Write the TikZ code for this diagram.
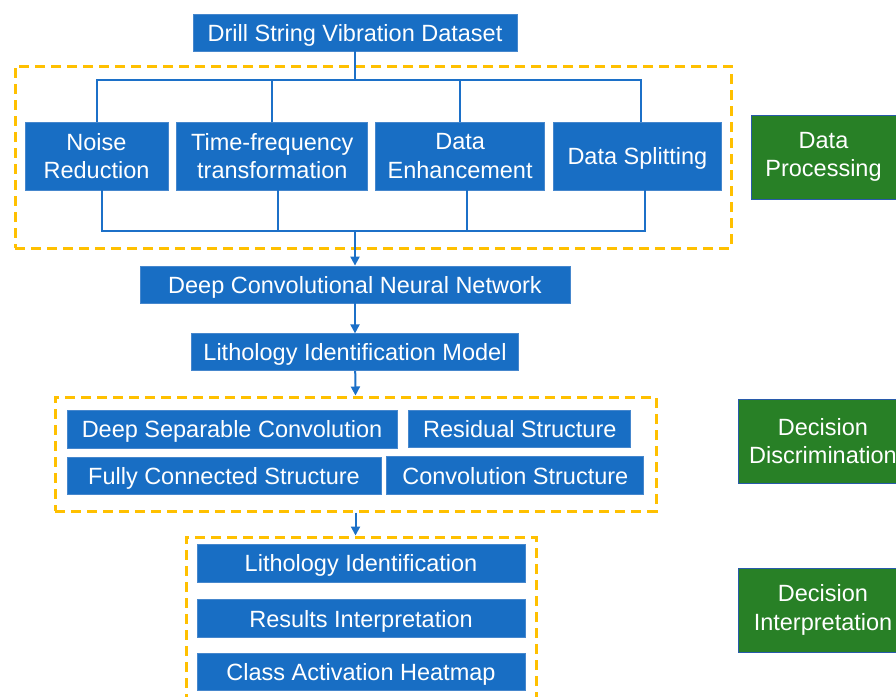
\documentclass[tikz,border=0pt]{standalone}
\usepackage{fontspec}
\setmainfont{Liberation Sans}
\usetikzlibrary{positioning, arrows.meta}

\definecolor{boxblue}{RGB}{24,110,196}
\definecolor{edgeblue}{RGB}{70,135,205}
\definecolor{lineblue}{RGB}{28,112,200}
\definecolor{stagegreen}{RGB}{40,128,38}
\definecolor{stageedge}{RGB}{40,90,170}
\definecolor{dashgold}{RGB}{255,192,0}

\tikzset{
    box/.style={draw=edgeblue, line width=0.8pt, fill=boxblue, text=white,
        inner sep=0pt, align=center, font=\fontsize{23.5}{28.5}\selectfont},
    oneline/.style={text height=17pt, text depth=0pt},
    stage/.style={box, fill=stagegreen, draw=stageedge, minimum height=84pt},
    group/.style={draw=dashgold, line width=3pt, dash pattern=on 10pt off 6pt, inner sep=0pt},
    link/.style={draw=lineblue, line width=2pt},
    flow/.style={link, -{Triangle[length=9pt,width=9pt]}},
}

\begin{document}
\begin{tikzpicture}[x=1pt, y=-1pt]
        \clip (0,0) rectangle (896,696);

        % dashed groups
        \node[group, minimum width=716pt, minimum height=182pt] (prep)   at (373,157)   {};
        \node[group, minimum width=601pt, minimum height=114pt] (struct) at (355.5,454) {};
        \node[group, minimum width=350pt, minimum height=183pt] (interp) at (361,628.5) {};

        % main flow
        \node[box, oneline, minimum width=324pt, minimum height=37pt] (data) at (355,32.5) {Drill String Vibration Dataset};
        \node[box, minimum width=143pt, minimum height=68pt] (noise) at (96.5,156) {Noise\\Reduction};
        \node[box, minimum width=191pt, minimum height=68pt, right=8pt of noise] (tf)  {Time-frequency\\transformation};
        \node[box, minimum width=169pt, minimum height=68pt, right=7pt of tf]    (enh) {Data\\Enhancement};
        \node[box, oneline, minimum width=168pt, minimum height=68pt, right=8pt of enh] (dsplit) {Data Splitting};

        \node[box, oneline, minimum width=430pt, minimum height=37pt] (dcnn) at (355,284.5) {Deep Convolutional Neural Network};
        \node[box, oneline, minimum width=327pt, minimum height=37pt, below=30pt of dcnn] (lim) {Lithology Identification Model};

        \node[box, oneline, minimum width=330pt, minimum height=38pt] (dsc) at (232,429) {Deep Separable Convolution};
        \node[box, oneline, minimum width=222pt, minimum height=37pt, right=11pt of dsc] (rs) {Residual Structure};
        \node[box, oneline, minimum width=314pt, minimum height=37pt] (fcs) at (224,475.5) {Fully Connected Structure};
        \node[box, oneline, minimum width=257pt, minimum height=38pt, right=5pt of fcs] (cs) {Convolution Structure};

        \node[box, oneline, minimum width=328pt, minimum height=38pt] (li) at (361,563) {Lithology Identification};
        \node[box, oneline, minimum width=328pt, minimum height=38pt, below=17pt of li] (ri)  {Results Interpretation};
        \node[box, oneline, minimum width=328pt, minimum height=37pt, below=15pt of ri] (cah) {Class Activation Heatmap};

        % stage labels
        \node[stage, minimum width=145pt] (dp) at (823.5,157) {Data\\Processing};
        \node[stage, minimum width=170pt] (dd) at (823,441)   {Decision\\Discrimination};
        \node[stage, minimum width=170pt] (di) at (823,610)   {Decision\\Interpretation};

        % connectors
        \coordinate (fork)  at (355,80);
        \coordinate (merge) at (355,231);
        \draw[link] (data) -- (fork);
        \draw[link] (noise.north) |- (fork) -| ([xshift=4pt]dsplit.north);
        \draw[link] (tf.north) -- (tf.north |- fork);
        \draw[link] (enh.north) -- (enh.north |- fork);
        \draw[link] ([xshift=5.5pt]noise.south) |- (merge) -| ([xshift=8pt]dsplit.south);
        \draw[link] ([xshift=5.5pt]tf.south) -- ([xshift=5.5pt]tf.south |- merge);
        \draw[link] ([xshift=6.5pt]enh.south) -- ([xshift=6.5pt]enh.south |- merge);

        \draw[flow] (merge) -- (dcnn);
        \draw[flow] (dcnn) -- (lim);
        \draw[flow] (lim) -- (struct.north);
        \draw[flow] (struct.south) -- (struct.south |- interp.north);
\end{tikzpicture}
\end{document}
